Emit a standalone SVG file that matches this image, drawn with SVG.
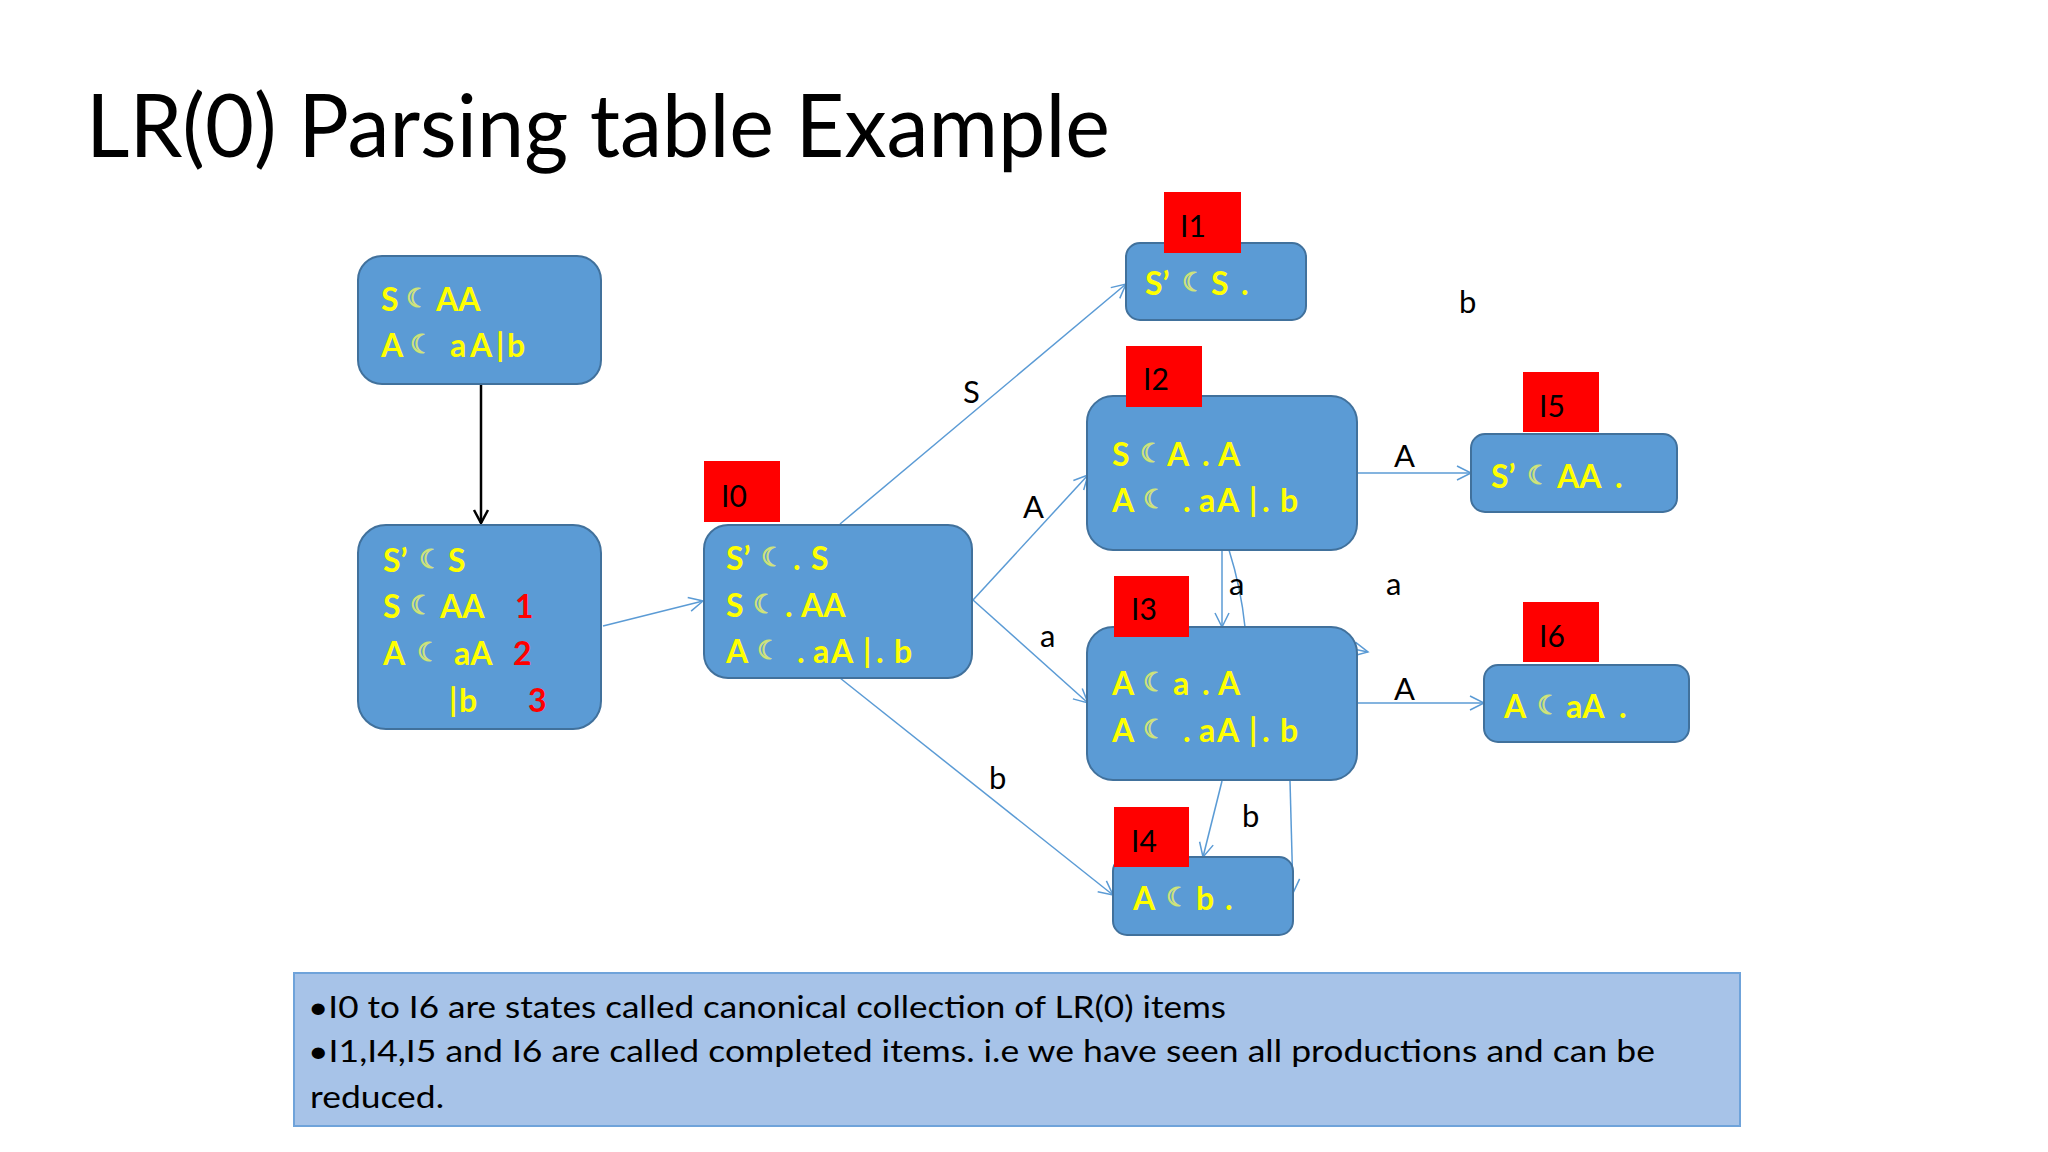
<svg xmlns="http://www.w3.org/2000/svg" width="2048" height="1152" viewBox="0 0 2048 1152">
<defs>
<style>
.box{fill:#5b9bd5;stroke:#41719c;stroke-width:2}
.tag{fill:#ff0000}
.t{font-family:Lato,"Open Sans","Liberation Sans",sans-serif;font-weight:bold;font-size:32px;fill:#ffff00}
.r{fill:#ff0000}
.m{font-family:"DejaVu Sans",sans-serif;font-size:26px;fill:none;stroke:#cfe37a;stroke-width:1}
.lab{font-family:Lato,"Open Sans","Liberation Sans",sans-serif;font-size:30px;fill:#000}
.el{font-family:Lato,"Open Sans","Liberation Sans",sans-serif;font-size:31px;fill:#000}
.nt{font-family:Lato,"Open Sans","Liberation Sans",sans-serif;font-size:31px;fill:#000}
.c{fill:none;stroke:#5b9bd5;stroke-width:1.5;marker-end:url(#ah)}
</style>
<marker id="ah" markerWidth="18" markerHeight="18" refX="15" refY="9" orient="auto" markerUnits="userSpaceOnUse">
<path d="M1,2 L15,9 L1,16" fill="none" stroke="#5b9bd5" stroke-width="1.5"/>
</marker>
<marker id="ahk" markerWidth="18" markerHeight="18" refX="15" refY="9" orient="auto" markerUnits="userSpaceOnUse">
<path d="M2,2 L15,9 L2,16" fill="none" stroke="#000" stroke-width="2.5"/>
</marker>
</defs>
<rect width="2048" height="1152" fill="#ffffff"/>
<text x="86" y="157" font-family="Lato,'Open Sans','Liberation Sans',sans-serif" font-size="88" fill="#000" textLength="1024" lengthAdjust="spacingAndGlyphs">LR(0) Parsing table Example</text>

<g id="connectors">
<path d="M481,384 L481,523" fill="none" stroke="#000" stroke-width="2.5" marker-end="url(#ahk)"/>
<path class="c" d="M603,626 L703,601"/>
<path class="c" d="M840,524 L1126,284"/>
<path class="c" d="M973,600 L1088,475"/>
<path class="c" d="M973,600 L1088,703"/>
<path class="c" d="M840,678 L1113,895"/>
<path class="c" d="M1357,473 L1471,473"/>
<path class="c" d="M1357,703 L1484,703"/>
<path class="c" d="M1222,550 L1222,627"/>
<path class="c" d="M1229,550 Q1241,588 1245,627 L1368,652"/>
<path class="c" d="M1222,781 L1203,857"/>
<path class="c" d="M1290,781 L1293,893"/>
<g id="edge-labels">
<text class="el" x="963" y="403">S</text>
<text class="el" x="1023" y="518">A</text>
<text class="el" x="1040" y="647">a</text>
<text class="el" x="989" y="789">b</text>
<text class="el" x="1394" y="467">A</text>
<text class="el" x="1394" y="700">A</text>
<text class="el" x="1229" y="595">a</text>
<text class="el" x="1386" y="595">a</text>
<text class="el" x="1242" y="827">b</text>
<text class="el" x="1459" y="313">b</text>
</g>
</g>

<g id="grammar">
<rect class="box" x="358" y="256" width="243" height="128" rx="24"/>
<text class="t" x="381" y="311">S</text><text class="m" x="406" y="307">☾</text><text class="t" x="436" y="311">AA</text>
<text class="t" x="381" y="357">A</text><text class="m" x="410" y="353">☾</text><text class="t" x="450 470 496 507" y="357">aA|b</text>
</g>

<g id="augmented">
<rect class="box" x="358" y="525" width="243" height="204" rx="28"/>
<text class="t" x="383" y="572">S’</text><text class="m" x="419" y="568">☾</text><text class="t" x="448" y="572">S</text>
<text class="t" x="383" y="618">S</text><text class="m" x="410" y="614">☾</text><text class="t" x="440" y="618">AA</text><text class="t r" x="515" y="618">1</text>
<text class="t" x="383" y="665">A</text><text class="m" x="417" y="661">☾</text><text class="t" x="454" y="665">aA</text><text class="t r" x="513" y="665">2</text>
<text class="t" x="449 459" y="712">|b</text><text class="t r" x="528" y="712">3</text>
</g>

<g id="I0">
<rect class="box" x="704" y="525" width="268" height="153" rx="24"/>
<rect class="tag" x="704" y="461" width="76" height="61"/>
<text class="lab" x="721" y="507">I0</text>
<text class="t" x="726" y="570">S’</text><text class="m" x="761" y="566">☾</text><text class="t" x="793" y="570">.</text><text class="t" x="811" y="570">S</text>
<text class="t" x="726" y="617">S</text><text class="m" x="753" y="613">☾</text><text class="t" x="785" y="617">.</text><text class="t" x="801" y="617">AA</text>
<text class="t" x="726" y="663">A</text><text class="m" x="757" y="659">☾</text><text class="t" x="797 813 831 863 876 894" y="663">.aA|.b</text>
</g>

<g id="I1">
<rect class="box" x="1126" y="243" width="180" height="77" rx="14"/>
<rect class="tag" x="1164" y="192" width="77" height="61"/>
<text class="lab" x="1180" y="237">I1</text>
<text class="t" x="1145" y="295">S’</text><text class="m" x="1182" y="291">☾</text><text class="t" x="1211" y="295">S</text><text class="t" x="1241" y="295">.</text>
</g>

<g id="I2">
<rect class="box" x="1087" y="396" width="270" height="154" rx="26"/>
<rect class="tag" x="1126" y="346" width="76" height="61"/>
<text class="lab" x="1143" y="390">I2</text>
<text class="t" x="1112" y="466">S</text><text class="m" x="1140" y="462">☾</text><text class="t" x="1167 1202 1218" y="466">A.A</text>
<text class="t" x="1112" y="512">A</text><text class="m" x="1143" y="508">☾</text><text class="t" x="1183 1199 1217 1249 1262 1280" y="512">.aA|.b</text>
</g>

<g id="I3">
<rect class="box" x="1087" y="627" width="270" height="153" rx="26"/>
<rect class="tag" x="1114" y="576" width="75" height="61"/>
<text class="lab" x="1131" y="620">I3</text>
<text class="t" x="1112" y="695">A</text><text class="m" x="1143" y="691">☾</text><text class="t" x="1173 1202 1218" y="695">a.A</text>
<text class="t" x="1112" y="742">A</text><text class="m" x="1143" y="738">☾</text><text class="t" x="1183 1199 1217 1249 1262 1280" y="742">.aA|.b</text>
</g>

<g id="I4">
<rect class="box" x="1113" y="857" width="180" height="78" rx="14"/>
<rect class="tag" x="1114" y="807" width="75" height="60"/>
<text class="lab" x="1131" y="852">I4</text>
<text class="t" x="1133" y="910">A</text><text class="m" x="1166" y="906">☾</text><text class="t" x="1196" y="910">b</text><text class="t" x="1225" y="910">.</text>
</g>

<g id="I5">
<rect class="box" x="1471" y="434" width="206" height="78" rx="14"/>
<rect class="tag" x="1523" y="372" width="76" height="60"/>
<text class="lab" x="1539" y="417">I5</text>
<text class="t" x="1491" y="488">S’</text><text class="m" x="1527" y="484">☾</text><text class="t" x="1557" y="488">AA</text><text class="t" x="1615" y="488">.</text>
</g>

<g id="I6">
<rect class="box" x="1484" y="665" width="205" height="77" rx="14"/>
<rect class="tag" x="1523" y="602" width="76" height="60"/>
<text class="lab" x="1539" y="647">I6</text>
<text class="t" x="1504" y="718">A</text><text class="m" x="1537" y="714">☾</text><text class="t" x="1566" y="718">aA</text><text class="t" x="1619" y="718">.</text>
</g>

<g id="note">
<rect x="294" y="973" width="1446" height="153" fill="#a7c3e8" stroke="#6fa3da" stroke-width="2"/>
<text class="nt" x="308" y="1018" textLength="918" lengthAdjust="spacingAndGlyphs">•I0 to I6 are states called canonical collection of LR(0) items</text>
<text class="nt" x="308" y="1062" textLength="1347" lengthAdjust="spacingAndGlyphs">•I1,I4,I5 and I6 are called completed items. i.e we have seen all productions and can be</text>
<text class="nt" x="310" y="1108" textLength="134" lengthAdjust="spacingAndGlyphs">reduced.</text>
</g>
</svg>
